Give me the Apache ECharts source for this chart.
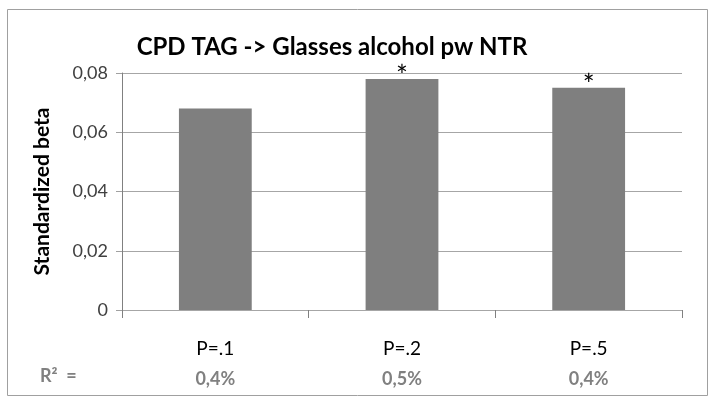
<!DOCTYPE html>
<html>
<head>
<meta charset="utf-8">
<script src="https://cdn.jsdelivr.net/npm/echarts@6/dist/echarts.min.js"></script>
<style>html,body{margin:0;padding:0;background:#fff}#c{width:714px;height:407px}</style>
</head>
<body>
<div id="c"></div>
<script>
var titleText = 'CPD TAG -> Glasses alcohol pw NTR';
var yAxisName = 'Standardized beta';
var categories = ['P=.1', 'P=.2', 'P=.5'];
var betaValues = [0.068, 0.078, 0.075];
var significance = ['', '*', '*'];
var r2Label = 'R²  =';
var r2Values = ['0,4%', '0,5%', '0,4%'];

var FONT = 'Lato, "Open Sans", sans-serif';
var chart = echarts.init(document.getElementById('c'));
chart.setOption({
  animation: false,
  backgroundColor: '#fff',
  title: {
    text: titleText,
    left: 327, top: 30, textAlign: 'center',
    textStyle: {fontFamily: FONT, fontSize: 24, fontWeight: 'bold', color: '#000'}
  },
  grid: {left: 122, right: 32, top: 73, bottom: 97},
  xAxis: {
    type: 'category',
    data: categories,
    axisLine: {show: false},
    axisTick: {show: true, length: 8, lineStyle: {color: '#808080'}},
    axisLabel: {
      margin: 24,
      lineHeight: 30,
      formatter: function (v, i) { return '{p|' + v + '}\n{r|' + r2Values[i] + '}'; },
      rich: {
        p: {fontFamily: FONT, fontSize: 19, color: '#000', lineHeight: 30},
        r: {fontFamily: FONT, fontSize: 18, color: '#808080', fontWeight: 'bold', lineHeight: 30}
      }
    }
  },
  yAxis: {
    type: 'value',
    min: 0, max: 0.08, interval: 0.02,
    name: yAxisName,
    nameLocation: 'middle',
    nameGap: 69,
    nameTextStyle: {fontFamily: FONT, fontSize: 21, fontWeight: 'bold', color: '#000'},
    axisLine: {show: true, lineStyle: {color: '#808080'}},
    axisTick: {show: true, length: 6, lineStyle: {color: '#a0a0a0'}},
    splitLine: {lineStyle: {color: '#a6a6a6', width: 1}},
    axisLabel: {
      margin: 14,
      fontFamily: FONT, fontSize: 18, color: '#404040',
      formatter: function (v) {
        return v === 0 ? '0' : v.toFixed(2).replace('.', ',');
      }
    }
  },
  series: [{
    type: 'bar',
    data: betaValues,
    barWidth: '39%',
    itemStyle: {color: '#7f7f7f'},
    label: {
      show: true, position: 'top', distance: -12,
      fontFamily: FONT, fontSize: 28, color: '#000',
      formatter: function (p) { return significance[p.dataIndex]; }
    }
  }],
  graphic: [
    {type: 'rect', shape: {x: 7.5, y: 9.5, width: 700, height: 386},
     style: {fill: null, stroke: '#a0a0a0', lineWidth: 1}, silent: true, z: -1},
    {type: 'text', left: 40, top: 367,
     style: {text: r2Label, fontFamily: FONT, fontSize: 18, fontWeight: 'bold', fill: '#808080'}}
  ]
});
</script>
</body>
</html>
